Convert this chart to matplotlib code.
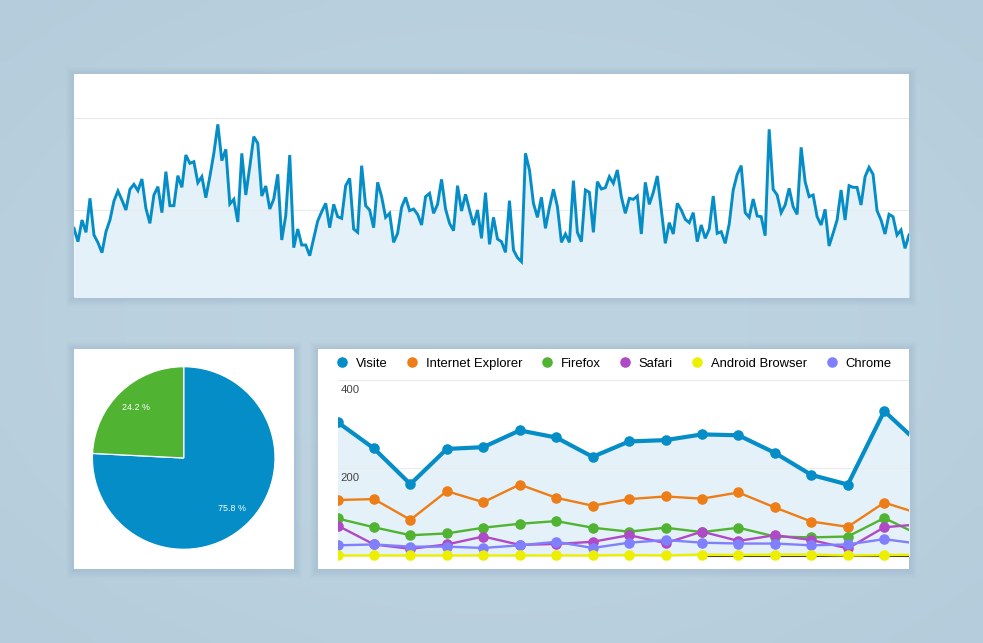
import numpy as np
import matplotlib
matplotlib.use("Agg")
import matplotlib.pyplot as plt
from matplotlib.lines import Line2D
from matplotlib.patches import Rectangle
from matplotlib.transforms import ScaledTranslation

plt.rcParams['font.family'] = ['Liberation Sans', 'DejaVu Sans']

# Top chart: daily visits, the axis has no labels so the unit is arbitrary
daily_visits = [
    221, 181, 246, 209, 311, 201, 178, 148, 211, 246, 303, 333, 306, 276, 338, 353, 334, 369,
    281, 236, 321, 346, 268, 391, 289, 289, 379, 344, 441, 416, 421, 358, 376, 313, 376, 446,
    533, 424, 458, 294, 308, 240, 446, 321, 406, 496, 476, 318, 348, 279, 309, 383, 186, 259,
    441, 163, 219, 171, 171, 139, 191, 243, 271, 296, 223, 293, 256, 251, 349, 371,
    219, 209, 409, 289, 276, 223, 359, 316, 254, 266, 179, 206, 284, 314, 274, 279, 263, 231,
    316, 326, 266, 293, 368, 279, 236, 214, 349, 273, 323, 276, 231, 276, 191, 328, 173, 254,
    189, 181, 149, 304, 156, 133, 121, 446, 396, 296, 254, 314, 221, 284, 338, 286, 179, 204,
    179, 364, 209, 181, 336, 329, 209, 361, 339, 343, 376, 356, 396, 316, 266, 311,
    308, 318, 204, 359, 293, 329, 378, 276, 176, 238, 204, 296, 276, 248, 238, 268, 181, 231,
    191, 219, 318, 206, 211, 176, 234, 336, 383, 409, 268, 254, 309, 258, 256, 199, 518, 338,
    321, 268, 291, 341, 286, 263, 464, 361, 316, 321, 256, 231, 278, 168, 206, 246, 336, 246,
    349, 344, 344, 291, 376, 404, 383, 274, 246, 204, 263, 256, 201, 216, 161, 201,
]
daily_ticks = [276, 552]

# Pie chart
pie_values = [75.8, 24.2]
pie_colors = ['#058DC7', '#50B432']

# Bottom chart: monthly values per browser
visite = [305, 245, 164, 244, 248, 286, 270, 226, 261, 264, 277, 275, 235, 185, 163, 330, 253]
internet_explorer = [128, 130, 83, 148, 123, 163, 133, 115, 130, 136, 131, 145, 111, 79, 67, 122, 96]
firefox = [86, 66, 48, 52, 65, 74, 80, 65, 56, 65, 55, 65, 45, 43, 45, 87, 47]
safari = [70, 27, 17, 27, 45, 26, 28, 33, 48, 30, 56, 35, 48, 37, 18, 66, 73]
android_browser = [2, 2, 2, 2, 2, 2, 2, 2, 3, 2, 4, 3, 4, 4, 2, 3, 4]
chrome = [25, 27, 22, 22, 19, 25, 33, 19, 31, 37, 31, 29, 29, 25, 27, 39, 28]
# thin dark line that shows just under the yellow one on the right
dark_line = [np.nan] * 10 + [1, 1, 1, 1, 1, 1, 1]
browser_ticks = [200, 400]

W, H = 983, 643
BLUE = '#058DC7'
FILL = '#E5F1F8'
GRID = '#E8EAEC'


def px_axes(x0, y0, x1, y1):
    # axes from pixel box, y measured from the top of the image
    return fig.add_axes([x0 / W, 1 - y1 / H, (x1 - x0) / W, (y1 - y0) / H])


def panel(x0, y0, x1, y1):
    # soft shadow and then the white card
    for i in range(8, 0, -1):
        bg.add_patch(Rectangle((x0 - i, y0 - i + 1), x1 - x0 + 2 * i, y1 - y0 + 2 * i,
                               fc='#4E6F85', ec='none', alpha=0.012))
    bg.add_patch(Rectangle((x0, y0), x1 - x0, y1 - y0, fc='white', ec='none'))


fig = plt.figure(figsize=(W / 100, H / 100), dpi=100)

# Background
bg = fig.add_axes([0, 0, 1, 1])
yy, xx = np.mgrid[-1:1:64j, -1:1:98j]
shade = np.clip(xx ** 2 + yy ** 2, 0, 2) / 2
c_mid = np.array([0xBD, 0xD3, 0xE1]) / 255
c_edge = np.array([0xB4, 0xCC, 0xDB]) / 255
bg.imshow(c_mid + (c_edge - c_mid) * shade[..., None], extent=[0, W, H, 0],
          aspect='auto', interpolation='bicubic')
bg.set_xlim(0, W)
bg.set_ylim(H, 0)
bg.axis('off')

panel(74, 74, 909, 297)
panel(74, 349, 294, 569)
panel(318, 349, 909, 569)

# Top line chart
ax1 = px_axes(74, 74, 909, 297)
ax1.patch.set_alpha(0)
days = np.arange(len(daily_visits))
ax1.fill_between(days, daily_visits, 0, color=FILL, lw=0, zorder=1)
ax1.plot(days, daily_visits, color=BLUE, lw=2.1, solid_joinstyle='miter', zorder=3)
ax1.set_xlim(0, len(daily_visits) - 1)
ax1.set_ylim(15, 684)
ax1.set_yticks(daily_ticks)
ax1.set_xticks([])
ax1.tick_params(length=0, labelleft=False)
ax1.grid(axis='y', color=GRID, lw=0.8, zorder=2)
ax1.set_axisbelow(False)
for s in ax1.spines.values():
    s.set_visible(False)

# Pie chart
cx, cy, r = 183.7, 458, 91.3
ax2 = px_axes(cx - r * 1.05, cy - r * 1.05, cx + r * 1.05, cy + r * 1.05)
wedges, texts, autotexts = ax2.pie(pie_values, colors=pie_colors, startangle=90, counterclock=False,
                                   autopct=lambda p: '%.1f %%' % p, pctdistance=0.76,
                                   wedgeprops={'edgecolor': 'white', 'linewidth': 0.9},
                                   textprops={'color': 'white', 'fontsize': 6.4})
ax2.set_xlim(-1.05, 1.05)
ax2.set_ylim(-1.05, 1.05)

# Bottom line chart
ax3 = px_axes(337.5, 349, 909, 569)
ax3.patch.set_alpha(0)
months = np.arange(len(visite))
ax3.fill_between(months, visite, 0, color=FILL, lw=0, zorder=1)
series = [
    ('Visite', visite, BLUE, 3.0),
    ('Internet Explorer', internet_explorer, '#ED7E17', 1.7),
    ('Firefox', firefox, '#50B432', 1.7),
    ('Safari', safari, '#AF49C5', 1.7),
    ('Chrome', chrome, '#8080FF', 1.7),
    ('Android Browser', android_browser, '#EDEF00', 1.7),
]
ax3.plot(months, dark_line, color='#4A4A20', lw=0.8, zorder=2.5)
for name, vals, col, lw in series:
    ax3.plot(months, vals, color=col, lw=lw, marker='o', ms=7.6, mew=0, zorder=3)
ax3.set_xlim(0, 571.5 / 36.45)
ax3.set_ylim(-28.8, 471)
ax3.set_yticks(browser_ticks)
ax3.set_xticks([])
ax3.grid(axis='y', color=GRID, lw=0.8, zorder=2)
ax3.tick_params(axis='y', length=0, pad=-2, labelsize=8.2, labelcolor='#444444')
shift = ScaledTranslation(0, -5 / 100, fig.dpi_scale_trans)
for lab in ax3.get_yticklabels():
    lab.set_horizontalalignment('left')
    lab.set_verticalalignment('top')
    lab.set_transform(lab.get_transform() + shift)
for s in ax3.spines.values():
    s.set_visible(False)

# Legend keeps the order of the original, which is not the drawing order
legend_order = ['Visite', 'Internet Explorer', 'Firefox', 'Safari', 'Android Browser', 'Chrome']
colors = {name: col for name, vals, col, lw in series}
handles = [Line2D([], [], ls='none', marker='o', ms=7.6, mew=0, color=colors[n], label=n) for n in legend_order]
ax3.legend(handles=handles, ncol=6, frameon=False, loc='center left',
           bbox_to_anchor=(335.5 / W, 1 - 363.5 / H), bbox_transform=fig.transFigure,
           borderpad=0, borderaxespad=0, handlelength=1, handletextpad=0.55,
           columnspacing=1.38, prop={'size': 9.4})

fig.savefig('out.png', dpi=100)
